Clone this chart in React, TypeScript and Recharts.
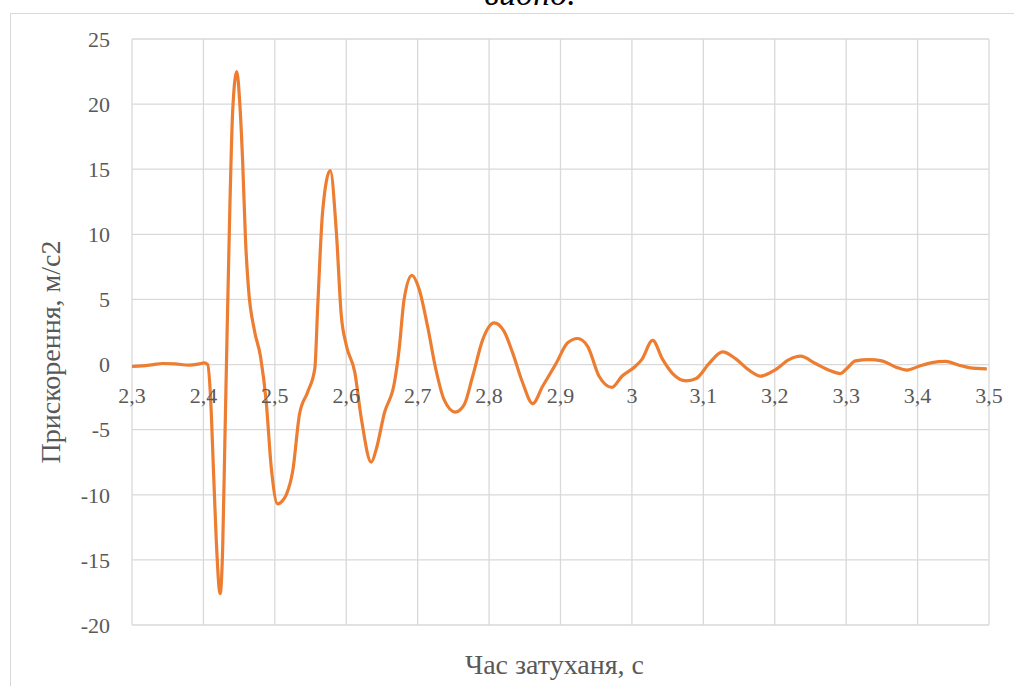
import React from "react";
import { LineChart, Line, XAxis, YAxis, CartesianGrid } from "recharts";

// час, с
const times = [
  2.3, 2.315, 2.33, 2.343, 2.36, 2.38, 2.394, 2.401, 2.406, 2.41,
  2.414, 2.418, 2.4234, 2.427, 2.43, 2.433, 2.437, 2.441, 2.4467, 2.451,
  2.455, 2.459, 2.463, 2.4715, 2.48, 2.488, 2.495, 2.504, 2.51, 2.516,
  2.525, 2.5346, 2.546, 2.556, 2.56, 2.567, 2.5776, 2.586, 2.593, 2.6,
  2.612, 2.621, 2.635, 2.642, 2.6535, 2.6674, 2.674, 2.681, 2.692, 2.702,
  2.714, 2.7256, 2.737, 2.7526, 2.765, 2.777, 2.791, 2.807, 2.821, 2.833,
  2.847, 2.861, 2.875, 2.894, 2.91, 2.924, 2.938, 2.954, 2.972, 2.986,
  3.005, 3.014, 3.029, 3.043, 3.057, 3.076, 3.09, 3.108, 3.127, 3.145,
  3.164, 3.18, 3.2, 3.22, 3.236, 3.257, 3.276, 3.292, 3.301, 3.313,
  3.332, 3.35, 3.369, 3.385, 3.402, 3.42, 3.439, 3.458, 3.472, 3.497,
];

// прискорення, м/с2
const accel = [
  -0.15, -0.1, 0.0, 0.08, 0.05, -0.05, 0.05, 0.13, 0.0, -2.5,
  -8, -13.5, -17.6, -14, -6, 2, 12, 19.5, 22.5, 20,
  15.5, 9.5, 5.9, 2.6, 0.6, -2.9, -7.9, -10.7, -10.5, -10,
  -8.2, -3.8, -2.1, -0.3, 4.4, 11.8, 14.9, 10.3, 3.8, 1.5,
  -0.6, -4.1, -7.5, -6.5, -3.7, -1.4, 1.15, 5, 6.85, 5.8,
  2.9, -0.4, -2.7, -3.65, -3.1, -0.9, 1.9, 3.2, 2.55, 0.9,
  -1.4, -3.0, -1.67, 0.1, 1.67, 2.0, 1.4, -0.9, -1.75, -0.9,
  -0.13, 0.4, 1.85, 0.4, -0.69, -1.25, -1.07, 0.08, 0.97, 0.46,
  -0.43, -0.89, -0.43, 0.38, 0.64, 0.08, -0.43, -0.69, -0.3, 0.28,
  0.38, 0.28, -0.18, -0.43, -0.13, 0.15, 0.25, -0.05, -0.23, -0.33,
];

const xTicks = [2.3, 2.4, 2.5, 2.6, 2.7, 2.8, 2.9, 3, 3.1, 3.2, 3.3, 3.4, 3.5];
const yTicks = [-20, -15, -10, -5, 0, 5, 10, 15, 20, 25];

const data = times.map((t, i) => ({ t, a: accel[i] }));

const W = 1014;
const H = 686;
const margin = { top: 39, right: 25, left: 0, bottom: 0 };
const yAxisWidth = 132;
const xAxisHeight = 61;
const plotHeight = H - margin.top - xAxisHeight;
const yMin = -20;
const yMax = 25;
// distance from the bottom of the plot up to the zero line
const zeroOffset = (plotHeight * (0 - yMin)) / (yMax - yMin);

const FONT = '"Liberation Serif", "Times New Roman", serif';
const TEXT = "#595959";
const GRID = "#d9d9d9";

const fmt = (v: number) => String(v).replace(".", ",");

function XTick(props: any) {
  const { x, y, payload } = props;
  return (
    <text x={x} y={y - zeroOffset + 38} textAnchor="middle"
      fill={TEXT} fontSize={22} fontFamily={FONT}>
      {fmt(payload.value)}
    </text>
  );
}

export default function App() {
  return (
    <div style={{ position: "absolute", left: 0, top: 0, width: W, height: H,
      background: "#fff", overflow: "hidden", fontFamily: FONT }}>
      <div style={{ position: "absolute", left: 0, top: -23, width: 1060, textAlign: "center",
        fontStyle: "italic", fontSize: 34, color: "#000", lineHeight: "34px" }}>
        видно.
      </div>
      <div style={{ position: "absolute", left: 10, top: 13, width: 1100, height: 700,
        border: "1px solid #d9d9d9", boxSizing: "border-box" }} />
      <div style={{ position: "absolute", left: 0, top: 0 }}>
        <LineChart width={W} height={H} data={data} margin={margin}>
          <CartesianGrid stroke={GRID} strokeWidth={1.3} />
          <XAxis dataKey="t" type="number" domain={[2.3, 3.5]} ticks={xTicks}
            height={xAxisHeight} axisLine={false} tickLine={false}
            tickSize={0} tickMargin={0} tick={<XTick />} interval={0}
            label={{ value: "Час затуханя, с", position: "insideBottom", offset: 12,
              dx: -6, fill: TEXT, fontSize: 28, fontFamily: FONT }} />
          <YAxis type="number" domain={[yMin, yMax]} ticks={yTicks} width={yAxisWidth}
            axisLine={false} tickLine={false} tickSize={0} tickMargin={22} interval={0}
            tick={{ fill: TEXT, fontSize: 22, fontFamily: FONT }}
            label={{ value: "Прискорення, м/с2", angle: -90, position: "insideLeft",
              offset: 50, dy: 20, fill: TEXT, fontSize: 28, fontFamily: FONT,
              style: { textAnchor: "middle" } }} />
          <Line type="monotone" dataKey="a" stroke="#ED7D31" strokeWidth={3.2}
            dot={false} isAnimationActive={false} />
        </LineChart>
      </div>
    </div>
  );
}
